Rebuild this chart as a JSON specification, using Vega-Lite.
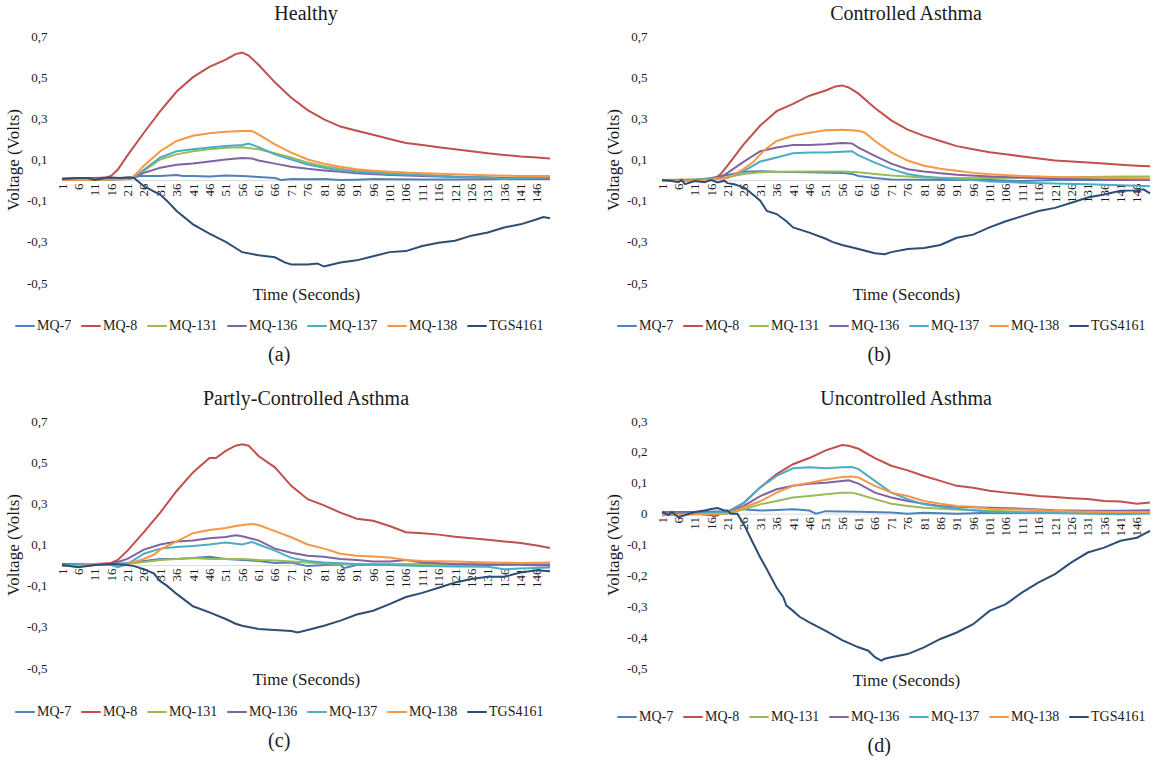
{
  "$schema": "https://vega.github.io/schema/vega-lite/v6.json",
  "background": "white",
  "padding": {"left": 4, "top": 4, "right": 0, "bottom": 0},
  "config": {
    "font": "Liberation Serif",
    "view": {"stroke": null},
    "axis": {"labelFont": "Liberation Serif", "titleFont": "Liberation Serif", "labelColor": "#1a1a1a", "titleColor": "#1a1a1a", "titleFontWeight": "normal", "grid": false},
    "legend": {"labelFont": "Liberation Serif", "labelColor": "#1a1a1a"},
    "title": {"font": "Liberation Serif", "fontWeight": "normal", "color": "#1a1a1a", "anchor": "middle"},
    "line": {"strokeWidth": 2}
  },
  "datasets": {
    "a": [
      {"s":"MQ-7","t":1,"v":0.005},{"s":"MQ-7","t":6,"v":0.006},{"s":"MQ-7","t":11,"v":0.005},{"s":"MQ-7","t":16,"v":0.008},{"s":"MQ-7","t":21,"v":0.012},{"s":"MQ-7","t":25,"v":0.02},{"s":"MQ-7","t":31,"v":0.02},{"s":"MQ-7","t":36,"v":0.025},{"s":"MQ-7","t":38,"v":0.02},{"s":"MQ-7","t":41,"v":0.02},{"s":"MQ-7","t":46,"v":0.018},{"s":"MQ-7","t":51,"v":0.022},{"s":"MQ-7","t":56,"v":0.02},{"s":"MQ-7","t":61,"v":0.015},{"s":"MQ-7","t":66,"v":0.01},{"s":"MQ-7","t":68,"v":0.0},{"s":"MQ-7","t":71,"v":0.005},{"s":"MQ-7","t":76,"v":0.004},{"s":"MQ-7","t":81,"v":0.005},{"s":"MQ-7","t":86,"v":0.0},{"s":"MQ-7","t":91,"v":0.002},{"s":"MQ-7","t":96,"v":0.005},{"s":"MQ-7","t":101,"v":0.004},{"s":"MQ-7","t":111,"v":0.003},{"s":"MQ-7","t":121,"v":0.003},{"s":"MQ-7","t":131,"v":0.004},{"s":"MQ-7","t":141,"v":0.005},{"s":"MQ-7","t":150,"v":0.005},
      {"s":"MQ-8","t":1,"v":0.008},{"s":"MQ-8","t":6,"v":0.01},{"s":"MQ-8","t":11,"v":0.01},{"s":"MQ-8","t":14,"v":0.012},{"s":"MQ-8","t":16,"v":0.02},{"s":"MQ-8","t":18,"v":0.05},{"s":"MQ-8","t":21,"v":0.12},{"s":"MQ-8","t":26,"v":0.23},{"s":"MQ-8","t":31,"v":0.335},{"s":"MQ-8","t":36,"v":0.43},{"s":"MQ-8","t":41,"v":0.5},{"s":"MQ-8","t":46,"v":0.55},{"s":"MQ-8","t":51,"v":0.585},{"s":"MQ-8","t":54,"v":0.612},{"s":"MQ-8","t":56,"v":0.62},{"s":"MQ-8","t":58,"v":0.605},{"s":"MQ-8","t":61,"v":0.56},{"s":"MQ-8","t":66,"v":0.475},{"s":"MQ-8","t":71,"v":0.4},{"s":"MQ-8","t":76,"v":0.34},{"s":"MQ-8","t":81,"v":0.295},{"s":"MQ-8","t":86,"v":0.26},{"s":"MQ-8","t":91,"v":0.24},{"s":"MQ-8","t":96,"v":0.22},{"s":"MQ-8","t":101,"v":0.2},{"s":"MQ-8","t":106,"v":0.18},{"s":"MQ-8","t":111,"v":0.17},{"s":"MQ-8","t":116,"v":0.16},{"s":"MQ-8","t":121,"v":0.15},{"s":"MQ-8","t":126,"v":0.14},{"s":"MQ-8","t":131,"v":0.13},{"s":"MQ-8","t":136,"v":0.122},{"s":"MQ-8","t":141,"v":0.115},{"s":"MQ-8","t":146,"v":0.11},{"s":"MQ-8","t":150,"v":0.105},
      {"s":"MQ-131","t":1,"v":0.0},{"s":"MQ-131","t":11,"v":0.002},{"s":"MQ-131","t":21,"v":0.005},{"s":"MQ-131","t":23,"v":0.01},{"s":"MQ-131","t":26,"v":0.045},{"s":"MQ-131","t":31,"v":0.1},{"s":"MQ-131","t":36,"v":0.125},{"s":"MQ-131","t":41,"v":0.14},{"s":"MQ-131","t":46,"v":0.15},{"s":"MQ-131","t":51,"v":0.157},{"s":"MQ-131","t":56,"v":0.16},{"s":"MQ-131","t":61,"v":0.15},{"s":"MQ-131","t":66,"v":0.13},{"s":"MQ-131","t":71,"v":0.11},{"s":"MQ-131","t":76,"v":0.085},{"s":"MQ-131","t":81,"v":0.068},{"s":"MQ-131","t":86,"v":0.055},{"s":"MQ-131","t":91,"v":0.045},{"s":"MQ-131","t":101,"v":0.033},{"s":"MQ-131","t":111,"v":0.025},{"s":"MQ-131","t":121,"v":0.018},{"s":"MQ-131","t":131,"v":0.013},{"s":"MQ-131","t":141,"v":0.01},{"s":"MQ-131","t":150,"v":0.01},
      {"s":"MQ-136","t":1,"v":0.0},{"s":"MQ-136","t":11,"v":0.002},{"s":"MQ-136","t":21,"v":0.005},{"s":"MQ-136","t":23,"v":0.012},{"s":"MQ-136","t":26,"v":0.035},{"s":"MQ-136","t":31,"v":0.06},{"s":"MQ-136","t":36,"v":0.075},{"s":"MQ-136","t":41,"v":0.08},{"s":"MQ-136","t":46,"v":0.09},{"s":"MQ-136","t":51,"v":0.1},{"s":"MQ-136","t":56,"v":0.107},{"s":"MQ-136","t":59,"v":0.105},{"s":"MQ-136","t":61,"v":0.095},{"s":"MQ-136","t":66,"v":0.08},{"s":"MQ-136","t":71,"v":0.065},{"s":"MQ-136","t":76,"v":0.055},{"s":"MQ-136","t":81,"v":0.047},{"s":"MQ-136","t":86,"v":0.04},{"s":"MQ-136","t":91,"v":0.033},{"s":"MQ-136","t":101,"v":0.025},{"s":"MQ-136","t":111,"v":0.02},{"s":"MQ-136","t":121,"v":0.015},{"s":"MQ-136","t":131,"v":0.012},{"s":"MQ-136","t":141,"v":0.008},{"s":"MQ-136","t":150,"v":0.008},
      {"s":"MQ-137","t":1,"v":0.0},{"s":"MQ-137","t":11,"v":0.0},{"s":"MQ-137","t":21,"v":0.005},{"s":"MQ-137","t":23,"v":0.012},{"s":"MQ-137","t":26,"v":0.05},{"s":"MQ-137","t":31,"v":0.11},{"s":"MQ-137","t":36,"v":0.14},{"s":"MQ-137","t":41,"v":0.15},{"s":"MQ-137","t":46,"v":0.158},{"s":"MQ-137","t":51,"v":0.165},{"s":"MQ-137","t":56,"v":0.17},{"s":"MQ-137","t":58,"v":0.177},{"s":"MQ-137","t":61,"v":0.16},{"s":"MQ-137","t":66,"v":0.125},{"s":"MQ-137","t":71,"v":0.1},{"s":"MQ-137","t":76,"v":0.076},{"s":"MQ-137","t":81,"v":0.06},{"s":"MQ-137","t":86,"v":0.047},{"s":"MQ-137","t":91,"v":0.04},{"s":"MQ-137","t":101,"v":0.03},{"s":"MQ-137","t":111,"v":0.025},{"s":"MQ-137","t":121,"v":0.015},{"s":"MQ-137","t":131,"v":0.012},{"s":"MQ-137","t":136,"v":0.005},{"s":"MQ-137","t":141,"v":0.01},{"s":"MQ-137","t":150,"v":0.012},
      {"s":"MQ-138","t":1,"v":0.0},{"s":"MQ-138","t":11,"v":0.0},{"s":"MQ-138","t":21,"v":0.005},{"s":"MQ-138","t":23,"v":0.02},{"s":"MQ-138","t":26,"v":0.07},{"s":"MQ-138","t":31,"v":0.14},{"s":"MQ-138","t":36,"v":0.19},{"s":"MQ-138","t":41,"v":0.215},{"s":"MQ-138","t":46,"v":0.228},{"s":"MQ-138","t":51,"v":0.235},{"s":"MQ-138","t":56,"v":0.238},{"s":"MQ-138","t":59,"v":0.238},{"s":"MQ-138","t":61,"v":0.222},{"s":"MQ-138","t":66,"v":0.173},{"s":"MQ-138","t":71,"v":0.133},{"s":"MQ-138","t":76,"v":0.1},{"s":"MQ-138","t":81,"v":0.08},{"s":"MQ-138","t":86,"v":0.065},{"s":"MQ-138","t":91,"v":0.053},{"s":"MQ-138","t":96,"v":0.045},{"s":"MQ-138","t":101,"v":0.04},{"s":"MQ-138","t":111,"v":0.033},{"s":"MQ-138","t":121,"v":0.028},{"s":"MQ-138","t":131,"v":0.023},{"s":"MQ-138","t":141,"v":0.02},{"s":"MQ-138","t":150,"v":0.02},
      {"s":"TGS4161","t":1,"v":0.005},{"s":"TGS4161","t":6,"v":0.01},{"s":"TGS4161","t":9,"v":0.01},{"s":"TGS4161","t":11,"v":0.0},{"s":"TGS4161","t":14,"v":0.01},{"s":"TGS4161","t":16,"v":0.012},{"s":"TGS4161","t":19,"v":0.01},{"s":"TGS4161","t":21,"v":0.013},{"s":"TGS4161","t":23,"v":0.01},{"s":"TGS4161","t":26,"v":-0.03},{"s":"TGS4161","t":29,"v":-0.055},{"s":"TGS4161","t":31,"v":-0.07},{"s":"TGS4161","t":33,"v":-0.1},{"s":"TGS4161","t":36,"v":-0.15},{"s":"TGS4161","t":41,"v":-0.215},{"s":"TGS4161","t":46,"v":-0.26},{"s":"TGS4161","t":51,"v":-0.3},{"s":"TGS4161","t":54,"v":-0.33},{"s":"TGS4161","t":56,"v":-0.35},{"s":"TGS4161","t":61,"v":-0.365},{"s":"TGS4161","t":66,"v":-0.375},{"s":"TGS4161","t":69,"v":-0.4},{"s":"TGS4161","t":71,"v":-0.41},{"s":"TGS4161","t":76,"v":-0.41},{"s":"TGS4161","t":79,"v":-0.405},{"s":"TGS4161","t":81,"v":-0.42},{"s":"TGS4161","t":86,"v":-0.4},{"s":"TGS4161","t":91,"v":-0.39},{"s":"TGS4161","t":96,"v":-0.37},{"s":"TGS4161","t":101,"v":-0.35},{"s":"TGS4161","t":106,"v":-0.345},{"s":"TGS4161","t":111,"v":-0.32},{"s":"TGS4161","t":116,"v":-0.305},{"s":"TGS4161","t":121,"v":-0.295},{"s":"TGS4161","t":126,"v":-0.27},{"s":"TGS4161","t":131,"v":-0.255},{"s":"TGS4161","t":136,"v":-0.23},{"s":"TGS4161","t":141,"v":-0.215},{"s":"TGS4161","t":146,"v":-0.19},{"s":"TGS4161","t":148,"v":-0.18},{"s":"TGS4161","t":150,"v":-0.185}
    ],
    "b": [
      {"s":"MQ-7","t":1,"v":0.0},{"s":"MQ-7","t":11,"v":0.0},{"s":"MQ-7","t":16,"v":0.01},{"s":"MQ-7","t":21,"v":0.025},{"s":"MQ-7","t":26,"v":0.04},{"s":"MQ-7","t":31,"v":0.043},{"s":"MQ-7","t":36,"v":0.04},{"s":"MQ-7","t":46,"v":0.038},{"s":"MQ-7","t":56,"v":0.035},{"s":"MQ-7","t":59,"v":0.03},{"s":"MQ-7","t":61,"v":0.02},{"s":"MQ-7","t":66,"v":0.01},{"s":"MQ-7","t":71,"v":0.003},{"s":"MQ-7","t":81,"v":0.002},{"s":"MQ-7","t":91,"v":0.0},{"s":"MQ-7","t":101,"v":0.0},{"s":"MQ-7","t":111,"v":-0.005},{"s":"MQ-7","t":121,"v":0.0},{"s":"MQ-7","t":131,"v":0.0},{"s":"MQ-7","t":141,"v":0.0},{"s":"MQ-7","t":150,"v":0.0},
      {"s":"MQ-8","t":1,"v":0.0},{"s":"MQ-8","t":11,"v":0.002},{"s":"MQ-8","t":17,"v":0.005},{"s":"MQ-8","t":19,"v":0.03},{"s":"MQ-8","t":21,"v":0.07},{"s":"MQ-8","t":26,"v":0.175},{"s":"MQ-8","t":31,"v":0.265},{"s":"MQ-8","t":36,"v":0.335},{"s":"MQ-8","t":41,"v":0.37},{"s":"MQ-8","t":46,"v":0.41},{"s":"MQ-8","t":51,"v":0.435},{"s":"MQ-8","t":54,"v":0.455},{"s":"MQ-8","t":56,"v":0.46},{"s":"MQ-8","t":58,"v":0.45},{"s":"MQ-8","t":61,"v":0.42},{"s":"MQ-8","t":66,"v":0.35},{"s":"MQ-8","t":71,"v":0.29},{"s":"MQ-8","t":76,"v":0.245},{"s":"MQ-8","t":81,"v":0.215},{"s":"MQ-8","t":86,"v":0.19},{"s":"MQ-8","t":91,"v":0.165},{"s":"MQ-8","t":96,"v":0.15},{"s":"MQ-8","t":101,"v":0.135},{"s":"MQ-8","t":106,"v":0.125},{"s":"MQ-8","t":111,"v":0.115},{"s":"MQ-8","t":116,"v":0.105},{"s":"MQ-8","t":121,"v":0.095},{"s":"MQ-8","t":126,"v":0.09},{"s":"MQ-8","t":131,"v":0.085},{"s":"MQ-8","t":136,"v":0.08},{"s":"MQ-8","t":141,"v":0.075},{"s":"MQ-8","t":146,"v":0.07},{"s":"MQ-8","t":150,"v":0.067},
      {"s":"MQ-131","t":1,"v":0.0},{"s":"MQ-131","t":11,"v":0.003},{"s":"MQ-131","t":16,"v":0.005},{"s":"MQ-131","t":21,"v":0.015},{"s":"MQ-131","t":26,"v":0.03},{"s":"MQ-131","t":31,"v":0.038},{"s":"MQ-131","t":36,"v":0.04},{"s":"MQ-131","t":46,"v":0.042},{"s":"MQ-131","t":56,"v":0.042},{"s":"MQ-131","t":61,"v":0.038},{"s":"MQ-131","t":66,"v":0.03},{"s":"MQ-131","t":71,"v":0.022},{"s":"MQ-131","t":81,"v":0.012},{"s":"MQ-131","t":91,"v":0.01},{"s":"MQ-131","t":101,"v":0.01},{"s":"MQ-131","t":111,"v":0.012},{"s":"MQ-131","t":121,"v":0.013},{"s":"MQ-131","t":131,"v":0.015},{"s":"MQ-131","t":141,"v":0.017},{"s":"MQ-131","t":150,"v":0.018},
      {"s":"MQ-136","t":1,"v":0.0},{"s":"MQ-136","t":11,"v":0.0},{"s":"MQ-136","t":18,"v":0.005},{"s":"MQ-136","t":21,"v":0.035},{"s":"MQ-136","t":26,"v":0.09},{"s":"MQ-136","t":31,"v":0.14},{"s":"MQ-136","t":36,"v":0.158},{"s":"MQ-136","t":41,"v":0.17},{"s":"MQ-136","t":46,"v":0.17},{"s":"MQ-136","t":51,"v":0.174},{"s":"MQ-136","t":56,"v":0.18},{"s":"MQ-136","t":59,"v":0.178},{"s":"MQ-136","t":61,"v":0.158},{"s":"MQ-136","t":66,"v":0.118},{"s":"MQ-136","t":71,"v":0.08},{"s":"MQ-136","t":76,"v":0.053},{"s":"MQ-136","t":81,"v":0.042},{"s":"MQ-136","t":86,"v":0.033},{"s":"MQ-136","t":91,"v":0.026},{"s":"MQ-136","t":101,"v":0.018},{"s":"MQ-136","t":111,"v":0.012},{"s":"MQ-136","t":121,"v":0.008},{"s":"MQ-136","t":131,"v":0.005},{"s":"MQ-136","t":141,"v":0.002},{"s":"MQ-136","t":150,"v":0.0},
      {"s":"MQ-137","t":1,"v":0.0},{"s":"MQ-137","t":11,"v":0.0},{"s":"MQ-137","t":21,"v":0.01},{"s":"MQ-137","t":26,"v":0.045},{"s":"MQ-137","t":31,"v":0.09},{"s":"MQ-137","t":36,"v":0.11},{"s":"MQ-137","t":41,"v":0.13},{"s":"MQ-137","t":46,"v":0.134},{"s":"MQ-137","t":51,"v":0.134},{"s":"MQ-137","t":56,"v":0.138},{"s":"MQ-137","t":59,"v":0.14},{"s":"MQ-137","t":61,"v":0.12},{"s":"MQ-137","t":66,"v":0.085},{"s":"MQ-137","t":71,"v":0.053},{"s":"MQ-137","t":76,"v":0.03},{"s":"MQ-137","t":81,"v":0.017},{"s":"MQ-137","t":86,"v":0.01},{"s":"MQ-137","t":91,"v":0.003},{"s":"MQ-137","t":96,"v":0.0},{"s":"MQ-137","t":101,"v":-0.007},{"s":"MQ-137","t":111,"v":-0.013},{"s":"MQ-137","t":121,"v":-0.017},{"s":"MQ-137","t":131,"v":-0.02},{"s":"MQ-137","t":141,"v":-0.025},{"s":"MQ-137","t":150,"v":-0.03},
      {"s":"MQ-138","t":1,"v":-0.005},{"s":"MQ-138","t":11,"v":-0.005},{"s":"MQ-138","t":21,"v":0.01},{"s":"MQ-138","t":24,"v":0.035},{"s":"MQ-138","t":26,"v":0.055},{"s":"MQ-138","t":29,"v":0.09},{"s":"MQ-138","t":31,"v":0.125},{"s":"MQ-138","t":33,"v":0.155},{"s":"MQ-138","t":36,"v":0.19},{"s":"MQ-138","t":41,"v":0.215},{"s":"MQ-138","t":46,"v":0.23},{"s":"MQ-138","t":51,"v":0.242},{"s":"MQ-138","t":56,"v":0.244},{"s":"MQ-138","t":61,"v":0.24},{"s":"MQ-138","t":63,"v":0.23},{"s":"MQ-138","t":66,"v":0.19},{"s":"MQ-138","t":71,"v":0.135},{"s":"MQ-138","t":76,"v":0.095},{"s":"MQ-138","t":81,"v":0.07},{"s":"MQ-138","t":86,"v":0.055},{"s":"MQ-138","t":91,"v":0.045},{"s":"MQ-138","t":96,"v":0.035},{"s":"MQ-138","t":101,"v":0.028},{"s":"MQ-138","t":111,"v":0.02},{"s":"MQ-138","t":121,"v":0.015},{"s":"MQ-138","t":131,"v":0.013},{"s":"MQ-138","t":141,"v":0.01},{"s":"MQ-138","t":150,"v":0.008},
      {"s":"TGS4161","t":1,"v":0.0},{"s":"TGS4161","t":4,"v":-0.005},{"s":"TGS4161","t":6,"v":-0.01},{"s":"TGS4161","t":7,"v":0.0},{"s":"TGS4161","t":8,"v":-0.02},{"s":"TGS4161","t":11,"v":-0.005},{"s":"TGS4161","t":14,"v":-0.01},{"s":"TGS4161","t":16,"v":0.0},{"s":"TGS4161","t":18,"v":-0.012},{"s":"TGS4161","t":20,"v":-0.003},{"s":"TGS4161","t":21,"v":-0.015},{"s":"TGS4161","t":23,"v":-0.02},{"s":"TGS4161","t":26,"v":-0.035},{"s":"TGS4161","t":28,"v":-0.06},{"s":"TGS4161","t":31,"v":-0.1},{"s":"TGS4161","t":33,"v":-0.15},{"s":"TGS4161","t":36,"v":-0.165},{"s":"TGS4161","t":39,"v":-0.2},{"s":"TGS4161","t":41,"v":-0.23},{"s":"TGS4161","t":46,"v":-0.255},{"s":"TGS4161","t":51,"v":-0.285},{"s":"TGS4161","t":53,"v":-0.3},{"s":"TGS4161","t":56,"v":-0.315},{"s":"TGS4161","t":61,"v":-0.335},{"s":"TGS4161","t":66,"v":-0.355},{"s":"TGS4161","t":69,"v":-0.36},{"s":"TGS4161","t":71,"v":-0.35},{"s":"TGS4161","t":76,"v":-0.335},{"s":"TGS4161","t":81,"v":-0.33},{"s":"TGS4161","t":86,"v":-0.315},{"s":"TGS4161","t":91,"v":-0.28},{"s":"TGS4161","t":96,"v":-0.265},{"s":"TGS4161","t":101,"v":-0.23},{"s":"TGS4161","t":106,"v":-0.2},{"s":"TGS4161","t":111,"v":-0.175},{"s":"TGS4161","t":116,"v":-0.15},{"s":"TGS4161","t":121,"v":-0.135},{"s":"TGS4161","t":126,"v":-0.11},{"s":"TGS4161","t":131,"v":-0.085},{"s":"TGS4161","t":136,"v":-0.07},{"s":"TGS4161","t":141,"v":-0.052},{"s":"TGS4161","t":146,"v":-0.05},{"s":"TGS4161","t":148,"v":-0.045},{"s":"TGS4161","t":150,"v":-0.065}
    ],
    "c": [
      {"s":"MQ-7","t":1,"v":0.0},{"s":"MQ-7","t":6,"v":-0.005},{"s":"MQ-7","t":11,"v":0.005},{"s":"MQ-7","t":16,"v":0.005},{"s":"MQ-7","t":21,"v":0.01},{"s":"MQ-7","t":26,"v":0.02},{"s":"MQ-7","t":31,"v":0.03},{"s":"MQ-7","t":36,"v":0.03},{"s":"MQ-7","t":41,"v":0.035},{"s":"MQ-7","t":46,"v":0.04},{"s":"MQ-7","t":51,"v":0.03},{"s":"MQ-7","t":56,"v":0.025},{"s":"MQ-7","t":61,"v":0.02},{"s":"MQ-7","t":66,"v":0.01},{"s":"MQ-7","t":71,"v":0.012},{"s":"MQ-7","t":76,"v":-0.005},{"s":"MQ-7","t":81,"v":0.0},{"s":"MQ-7","t":86,"v":0.003},{"s":"MQ-7","t":87,"v":-0.015},{"s":"MQ-7","t":91,"v":0.0},{"s":"MQ-7","t":101,"v":0.003},{"s":"MQ-7","t":111,"v":0.005},{"s":"MQ-7","t":121,"v":0.003},{"s":"MQ-7","t":131,"v":0.002},{"s":"MQ-7","t":141,"v":0.005},{"s":"MQ-7","t":150,"v":0.005},
      {"s":"MQ-8","t":1,"v":0.005},{"s":"MQ-8","t":11,"v":0.005},{"s":"MQ-8","t":16,"v":0.01},{"s":"MQ-8","t":18,"v":0.025},{"s":"MQ-8","t":21,"v":0.07},{"s":"MQ-8","t":26,"v":0.16},{"s":"MQ-8","t":31,"v":0.255},{"s":"MQ-8","t":36,"v":0.36},{"s":"MQ-8","t":41,"v":0.45},{"s":"MQ-8","t":46,"v":0.52},{"s":"MQ-8","t":48,"v":0.52},{"s":"MQ-8","t":51,"v":0.555},{"s":"MQ-8","t":54,"v":0.58},{"s":"MQ-8","t":56,"v":0.587},{"s":"MQ-8","t":58,"v":0.58},{"s":"MQ-8","t":61,"v":0.53},{"s":"MQ-8","t":66,"v":0.475},{"s":"MQ-8","t":71,"v":0.385},{"s":"MQ-8","t":76,"v":0.32},{"s":"MQ-8","t":81,"v":0.29},{"s":"MQ-8","t":86,"v":0.255},{"s":"MQ-8","t":91,"v":0.225},{"s":"MQ-8","t":96,"v":0.215},{"s":"MQ-8","t":101,"v":0.19},{"s":"MQ-8","t":106,"v":0.16},{"s":"MQ-8","t":111,"v":0.155},{"s":"MQ-8","t":116,"v":0.148},{"s":"MQ-8","t":121,"v":0.138},{"s":"MQ-8","t":126,"v":0.13},{"s":"MQ-8","t":131,"v":0.123},{"s":"MQ-8","t":136,"v":0.115},{"s":"MQ-8","t":141,"v":0.107},{"s":"MQ-8","t":146,"v":0.095},{"s":"MQ-8","t":150,"v":0.083},
      {"s":"MQ-131","t":1,"v":0.0},{"s":"MQ-131","t":11,"v":0.005},{"s":"MQ-131","t":21,"v":0.005},{"s":"MQ-131","t":26,"v":0.015},{"s":"MQ-131","t":31,"v":0.025},{"s":"MQ-131","t":36,"v":0.03},{"s":"MQ-131","t":41,"v":0.035},{"s":"MQ-131","t":46,"v":0.03},{"s":"MQ-131","t":51,"v":0.03},{"s":"MQ-131","t":56,"v":0.03},{"s":"MQ-131","t":61,"v":0.025},{"s":"MQ-131","t":66,"v":0.022},{"s":"MQ-131","t":71,"v":0.018},{"s":"MQ-131","t":76,"v":0.013},{"s":"MQ-131","t":81,"v":0.008},{"s":"MQ-131","t":91,"v":0.003},{"s":"MQ-131","t":101,"v":0.005},{"s":"MQ-131","t":111,"v":0.005},{"s":"MQ-131","t":121,"v":0.005},{"s":"MQ-131","t":131,"v":0.005},{"s":"MQ-131","t":141,"v":0.008},{"s":"MQ-131","t":150,"v":0.01},
      {"s":"MQ-136","t":1,"v":0.0},{"s":"MQ-136","t":6,"v":-0.005},{"s":"MQ-136","t":11,"v":0.0},{"s":"MQ-136","t":16,"v":0.005},{"s":"MQ-136","t":21,"v":0.03},{"s":"MQ-136","t":26,"v":0.075},{"s":"MQ-136","t":31,"v":0.1},{"s":"MQ-136","t":36,"v":0.115},{"s":"MQ-136","t":41,"v":0.12},{"s":"MQ-136","t":46,"v":0.13},{"s":"MQ-136","t":51,"v":0.137},{"s":"MQ-136","t":54,"v":0.145},{"s":"MQ-136","t":56,"v":0.14},{"s":"MQ-136","t":61,"v":0.12},{"s":"MQ-136","t":66,"v":0.08},{"s":"MQ-136","t":71,"v":0.06},{"s":"MQ-136","t":76,"v":0.045},{"s":"MQ-136","t":81,"v":0.04},{"s":"MQ-136","t":86,"v":0.03},{"s":"MQ-136","t":91,"v":0.025},{"s":"MQ-136","t":96,"v":0.018},{"s":"MQ-136","t":101,"v":0.018},{"s":"MQ-136","t":106,"v":0.025},{"s":"MQ-136","t":111,"v":0.012},{"s":"MQ-136","t":121,"v":0.005},{"s":"MQ-136","t":131,"v":0.002},{"s":"MQ-136","t":141,"v":0.002},{"s":"MQ-136","t":150,"v":-0.003},
      {"s":"MQ-137","t":1,"v":0.0},{"s":"MQ-137","t":11,"v":0.0},{"s":"MQ-137","t":16,"v":0.0},{"s":"MQ-137","t":18,"v":-0.01},{"s":"MQ-137","t":21,"v":0.005},{"s":"MQ-137","t":26,"v":0.055},{"s":"MQ-137","t":31,"v":0.08},{"s":"MQ-137","t":36,"v":0.088},{"s":"MQ-137","t":41,"v":0.093},{"s":"MQ-137","t":46,"v":0.1},{"s":"MQ-137","t":51,"v":0.11},{"s":"MQ-137","t":56,"v":0.1},{"s":"MQ-137","t":59,"v":0.112},{"s":"MQ-137","t":61,"v":0.1},{"s":"MQ-137","t":66,"v":0.07},{"s":"MQ-137","t":71,"v":0.035},{"s":"MQ-137","t":76,"v":0.02},{"s":"MQ-137","t":81,"v":0.013},{"s":"MQ-137","t":91,"v":0.005},{"s":"MQ-137","t":101,"v":0.0},{"s":"MQ-137","t":111,"v":-0.005},{"s":"MQ-137","t":121,"v":-0.007},{"s":"MQ-137","t":131,"v":-0.008},{"s":"MQ-137","t":136,"v":-0.02},{"s":"MQ-137","t":141,"v":-0.016},{"s":"MQ-137","t":150,"v":-0.012},
      {"s":"MQ-138","t":1,"v":-0.005},{"s":"MQ-138","t":6,"v":-0.005},{"s":"MQ-138","t":11,"v":0.0},{"s":"MQ-138","t":21,"v":0.005},{"s":"MQ-138","t":26,"v":0.03},{"s":"MQ-138","t":29,"v":0.05},{"s":"MQ-138","t":31,"v":0.075},{"s":"MQ-138","t":36,"v":0.115},{"s":"MQ-138","t":41,"v":0.155},{"s":"MQ-138","t":46,"v":0.17},{"s":"MQ-138","t":51,"v":0.18},{"s":"MQ-138","t":54,"v":0.19},{"s":"MQ-138","t":56,"v":0.195},{"s":"MQ-138","t":59,"v":0.2},{"s":"MQ-138","t":61,"v":0.195},{"s":"MQ-138","t":66,"v":0.165},{"s":"MQ-138","t":71,"v":0.135},{"s":"MQ-138","t":76,"v":0.1},{"s":"MQ-138","t":81,"v":0.08},{"s":"MQ-138","t":86,"v":0.055},{"s":"MQ-138","t":91,"v":0.045},{"s":"MQ-138","t":96,"v":0.042},{"s":"MQ-138","t":101,"v":0.037},{"s":"MQ-138","t":106,"v":0.025},{"s":"MQ-138","t":111,"v":0.02},{"s":"MQ-138","t":121,"v":0.017},{"s":"MQ-138","t":131,"v":0.013},{"s":"MQ-138","t":141,"v":0.01},{"s":"MQ-138","t":150,"v":0.013},
      {"s":"TGS4161","t":1,"v":0.0},{"s":"TGS4161","t":6,"v":-0.01},{"s":"TGS4161","t":11,"v":0.0},{"s":"TGS4161","t":16,"v":0.005},{"s":"TGS4161","t":21,"v":0.0},{"s":"TGS4161","t":23,"v":-0.005},{"s":"TGS4161","t":26,"v":-0.02},{"s":"TGS4161","t":29,"v":-0.04},{"s":"TGS4161","t":31,"v":-0.078},{"s":"TGS4161","t":33,"v":-0.1},{"s":"TGS4161","t":36,"v":-0.14},{"s":"TGS4161","t":41,"v":-0.2},{"s":"TGS4161","t":46,"v":-0.23},{"s":"TGS4161","t":51,"v":-0.262},{"s":"TGS4161","t":54,"v":-0.285},{"s":"TGS4161","t":56,"v":-0.295},{"s":"TGS4161","t":61,"v":-0.31},{"s":"TGS4161","t":66,"v":-0.315},{"s":"TGS4161","t":71,"v":-0.32},{"s":"TGS4161","t":73,"v":-0.327},{"s":"TGS4161","t":76,"v":-0.315},{"s":"TGS4161","t":81,"v":-0.295},{"s":"TGS4161","t":86,"v":-0.27},{"s":"TGS4161","t":91,"v":-0.24},{"s":"TGS4161","t":96,"v":-0.222},{"s":"TGS4161","t":101,"v":-0.19},{"s":"TGS4161","t":106,"v":-0.155},{"s":"TGS4161","t":111,"v":-0.135},{"s":"TGS4161","t":116,"v":-0.11},{"s":"TGS4161","t":121,"v":-0.085},{"s":"TGS4161","t":126,"v":-0.068},{"s":"TGS4161","t":131,"v":-0.057},{"s":"TGS4161","t":136,"v":-0.057},{"s":"TGS4161","t":141,"v":-0.036},{"s":"TGS4161","t":146,"v":-0.025},{"s":"TGS4161","t":150,"v":-0.03}
    ],
    "d": [
      {"s":"MQ-7","t":1,"v":0.005},{"s":"MQ-7","t":6,"v":0.0},{"s":"MQ-7","t":11,"v":0.005},{"s":"MQ-7","t":21,"v":0.008},{"s":"MQ-7","t":24,"v":0.015},{"s":"MQ-7","t":31,"v":0.01},{"s":"MQ-7","t":36,"v":0.012},{"s":"MQ-7","t":41,"v":0.014},{"s":"MQ-7","t":46,"v":0.01},{"s":"MQ-7","t":48,"v":0.0},{"s":"MQ-7","t":51,"v":0.008},{"s":"MQ-7","t":61,"v":0.006},{"s":"MQ-7","t":71,"v":0.004},{"s":"MQ-7","t":76,"v":0.0},{"s":"MQ-7","t":81,"v":0.003},{"s":"MQ-7","t":91,"v":0.0},{"s":"MQ-7","t":101,"v":0.003},{"s":"MQ-7","t":111,"v":0.002},{"s":"MQ-7","t":121,"v":0.002},{"s":"MQ-7","t":131,"v":0.001},{"s":"MQ-7","t":141,"v":0.002},{"s":"MQ-7","t":150,"v":0.002},
      {"s":"MQ-8","t":1,"v":-0.005},{"s":"MQ-8","t":11,"v":0.0},{"s":"MQ-8","t":16,"v":-0.005},{"s":"MQ-8","t":17,"v":-0.01},{"s":"MQ-8","t":19,"v":0.0},{"s":"MQ-8","t":21,"v":0.006},{"s":"MQ-8","t":26,"v":0.035},{"s":"MQ-8","t":31,"v":0.085},{"s":"MQ-8","t":36,"v":0.128},{"s":"MQ-8","t":41,"v":0.16},{"s":"MQ-8","t":46,"v":0.18},{"s":"MQ-8","t":51,"v":0.205},{"s":"MQ-8","t":56,"v":0.222},{"s":"MQ-8","t":58,"v":0.22},{"s":"MQ-8","t":61,"v":0.21},{"s":"MQ-8","t":66,"v":0.18},{"s":"MQ-8","t":71,"v":0.155},{"s":"MQ-8","t":76,"v":0.14},{"s":"MQ-8","t":81,"v":0.122},{"s":"MQ-8","t":86,"v":0.106},{"s":"MQ-8","t":91,"v":0.09},{"s":"MQ-8","t":96,"v":0.084},{"s":"MQ-8","t":101,"v":0.074},{"s":"MQ-8","t":106,"v":0.068},{"s":"MQ-8","t":111,"v":0.063},{"s":"MQ-8","t":116,"v":0.057},{"s":"MQ-8","t":121,"v":0.054},{"s":"MQ-8","t":126,"v":0.05},{"s":"MQ-8","t":131,"v":0.047},{"s":"MQ-8","t":136,"v":0.041},{"s":"MQ-8","t":141,"v":0.039},{"s":"MQ-8","t":146,"v":0.032},{"s":"MQ-8","t":150,"v":0.036},
      {"s":"MQ-131","t":1,"v":0.0},{"s":"MQ-131","t":11,"v":0.0},{"s":"MQ-131","t":21,"v":0.0},{"s":"MQ-131","t":26,"v":0.014},{"s":"MQ-131","t":31,"v":0.03},{"s":"MQ-131","t":36,"v":0.041},{"s":"MQ-131","t":41,"v":0.052},{"s":"MQ-131","t":46,"v":0.057},{"s":"MQ-131","t":51,"v":0.063},{"s":"MQ-131","t":56,"v":0.068},{"s":"MQ-131","t":59,"v":0.068},{"s":"MQ-131","t":61,"v":0.063},{"s":"MQ-131","t":66,"v":0.047},{"s":"MQ-131","t":71,"v":0.032},{"s":"MQ-131","t":76,"v":0.025},{"s":"MQ-131","t":81,"v":0.019},{"s":"MQ-131","t":86,"v":0.016},{"s":"MQ-131","t":91,"v":0.013},{"s":"MQ-131","t":101,"v":0.009},{"s":"MQ-131","t":111,"v":0.006},{"s":"MQ-131","t":121,"v":0.005},{"s":"MQ-131","t":131,"v":0.005},{"s":"MQ-131","t":141,"v":0.004},{"s":"MQ-131","t":150,"v":0.003},
      {"s":"MQ-136","t":1,"v":0.005},{"s":"MQ-136","t":11,"v":0.005},{"s":"MQ-136","t":16,"v":0.002},{"s":"MQ-136","t":21,"v":0.005},{"s":"MQ-136","t":26,"v":0.025},{"s":"MQ-136","t":31,"v":0.057},{"s":"MQ-136","t":36,"v":0.079},{"s":"MQ-136","t":41,"v":0.09},{"s":"MQ-136","t":46,"v":0.097},{"s":"MQ-136","t":51,"v":0.1},{"s":"MQ-136","t":56,"v":0.106},{"s":"MQ-136","t":58,"v":0.108},{"s":"MQ-136","t":61,"v":0.097},{"s":"MQ-136","t":66,"v":0.068},{"s":"MQ-136","t":71,"v":0.052},{"s":"MQ-136","t":76,"v":0.041},{"s":"MQ-136","t":81,"v":0.032},{"s":"MQ-136","t":86,"v":0.025},{"s":"MQ-136","t":91,"v":0.022},{"s":"MQ-136","t":101,"v":0.019},{"s":"MQ-136","t":111,"v":0.016},{"s":"MQ-136","t":121,"v":0.011},{"s":"MQ-136","t":131,"v":0.009},{"s":"MQ-136","t":141,"v":0.009},{"s":"MQ-136","t":150,"v":0.011},
      {"s":"MQ-137","t":1,"v":0.0},{"s":"MQ-137","t":11,"v":0.0},{"s":"MQ-137","t":21,"v":0.005},{"s":"MQ-137","t":26,"v":0.035},{"s":"MQ-137","t":31,"v":0.085},{"s":"MQ-137","t":36,"v":0.122},{"s":"MQ-137","t":41,"v":0.147},{"s":"MQ-137","t":46,"v":0.15},{"s":"MQ-137","t":51,"v":0.147},{"s":"MQ-137","t":56,"v":0.15},{"s":"MQ-137","t":59,"v":0.151},{"s":"MQ-137","t":61,"v":0.144},{"s":"MQ-137","t":66,"v":0.106},{"s":"MQ-137","t":71,"v":0.068},{"s":"MQ-137","t":76,"v":0.047},{"s":"MQ-137","t":81,"v":0.03},{"s":"MQ-137","t":86,"v":0.022},{"s":"MQ-137","t":91,"v":0.016},{"s":"MQ-137","t":96,"v":0.011},{"s":"MQ-137","t":101,"v":0.006},{"s":"MQ-137","t":111,"v":0.003},{"s":"MQ-137","t":121,"v":0.002},{"s":"MQ-137","t":131,"v":0.0},{"s":"MQ-137","t":141,"v":-0.002},{"s":"MQ-137","t":150,"v":0.0},
      {"s":"MQ-138","t":1,"v":-0.005},{"s":"MQ-138","t":11,"v":-0.003},{"s":"MQ-138","t":21,"v":0.0},{"s":"MQ-138","t":26,"v":0.02},{"s":"MQ-138","t":31,"v":0.04},{"s":"MQ-138","t":36,"v":0.068},{"s":"MQ-138","t":41,"v":0.09},{"s":"MQ-138","t":46,"v":0.1},{"s":"MQ-138","t":51,"v":0.11},{"s":"MQ-138","t":56,"v":0.119},{"s":"MQ-138","t":59,"v":0.12},{"s":"MQ-138","t":61,"v":0.117},{"s":"MQ-138","t":66,"v":0.09},{"s":"MQ-138","t":71,"v":0.068},{"s":"MQ-138","t":76,"v":0.057},{"s":"MQ-138","t":81,"v":0.041},{"s":"MQ-138","t":86,"v":0.032},{"s":"MQ-138","t":91,"v":0.025},{"s":"MQ-138","t":96,"v":0.022},{"s":"MQ-138","t":101,"v":0.016},{"s":"MQ-138","t":111,"v":0.013},{"s":"MQ-138","t":121,"v":0.009},{"s":"MQ-138","t":131,"v":0.006},{"s":"MQ-138","t":141,"v":0.005},{"s":"MQ-138","t":150,"v":0.005},
      {"s":"TGS4161","t":1,"v":0.005},{"s":"TGS4161","t":3,"v":-0.005},{"s":"TGS4161","t":4,"v":0.005},{"s":"TGS4161","t":6,"v":-0.012},{"s":"TGS4161","t":8,"v":-0.005},{"s":"TGS4161","t":11,"v":0.005},{"s":"TGS4161","t":14,"v":0.01},{"s":"TGS4161","t":16,"v":0.015},{"s":"TGS4161","t":18,"v":0.018},{"s":"TGS4161","t":20,"v":0.01},{"s":"TGS4161","t":21,"v":0.01},{"s":"TGS4161","t":22,"v":0.0},{"s":"TGS4161","t":24,"v":0.0},{"s":"TGS4161","t":26,"v":-0.035},{"s":"TGS4161","t":28,"v":-0.078},{"s":"TGS4161","t":31,"v":-0.142},{"s":"TGS4161","t":33,"v":-0.18},{"s":"TGS4161","t":36,"v":-0.24},{"s":"TGS4161","t":38,"v":-0.27},{"s":"TGS4161","t":39,"v":-0.298},{"s":"TGS4161","t":41,"v":-0.315},{"s":"TGS4161","t":43,"v":-0.334},{"s":"TGS4161","t":46,"v":-0.352},{"s":"TGS4161","t":51,"v":-0.38},{"s":"TGS4161","t":56,"v":-0.41},{"s":"TGS4161","t":61,"v":-0.433},{"s":"TGS4161","t":64,"v":-0.444},{"s":"TGS4161","t":66,"v":-0.465},{"s":"TGS4161","t":68,"v":-0.476},{"s":"TGS4161","t":69,"v":-0.47},{"s":"TGS4161","t":71,"v":-0.465},{"s":"TGS4161","t":76,"v":-0.455},{"s":"TGS4161","t":81,"v":-0.433},{"s":"TGS4161","t":86,"v":-0.406},{"s":"TGS4161","t":91,"v":-0.385},{"s":"TGS4161","t":96,"v":-0.358},{"s":"TGS4161","t":101,"v":-0.315},{"s":"TGS4161","t":106,"v":-0.293},{"s":"TGS4161","t":111,"v":-0.255},{"s":"TGS4161","t":116,"v":-0.223},{"s":"TGS4161","t":121,"v":-0.196},{"s":"TGS4161","t":126,"v":-0.158},{"s":"TGS4161","t":131,"v":-0.126},{"s":"TGS4161","t":136,"v":-0.11},{"s":"TGS4161","t":141,"v":-0.088},{"s":"TGS4161","t":146,"v":-0.078},{"s":"TGS4161","t":150,"v":-0.056}
    ]
  },
  "resolve": {"scale": {"x": "independent", "y": "independent", "color": "independent"}, "legend": {"color": "independent"}, "axis": {"x": "independent", "y": "independent"}},
  "spacing": 24,
  "vconcat": [
    {
      "resolve": {"scale": {"x": "independent", "y": "independent", "color": "independent"}, "legend": {"color": "independent"}, "axis": {"x": "independent", "y": "independent"}},
      "spacing": 50,
      "hconcat": [
        {
          "title": {"text": "(a)", "orient": "bottom", "fontSize": 20, "offset": 12, "anchor": "middle"},
          "resolve": {"scale": {"color": "independent"}, "legend": {"color": "independent"}},
          "vconcat": [{
            "title": {"text": "Healthy", "fontSize": 20, "offset": 6, "anchor": "middle"},
            "width": 488, "height": 247,
            "data": {"name": "a"},
            "mark": {"type": "line", "strokeWidth": 2},
            "encoding": {
              "x": {"field": "t", "type": "quantitative", "scale": {"domain": [1, 150], "nice": false, "zero": false},
                "axis": {"title": "Time (Seconds)", "values": [1,6,11,16,21,26,31,36,41,46,51,56,61,66,71,76,81,86,91,96,101,106,111,116,121,126,131,136,141,146], "labelAngle": -90, "labelFlush": false, "labelOverlap": false, "offset": -102.9, "ticks": false, "domainColor": "#d9d9d9", "domainWidth": 1, "labelPadding": 3, "labelFontSize": 13, "titleFontSize": 17, "titleY": 114.6, "titleBaseline": "middle"}},
              "y": {"field": "v", "type": "quantitative", "scale": {"domain": [-0.5, 0.7], "nice": false, "zero": false},
                "axis": {"title": "Voltage (Volts)", "values": [-0.5,-0.3,-0.1,0.1,0.3,0.5,0.7], "labelExpr": "datum.value == 0 ? '0' : replace(replace(format(datum.value, '.1f'), '.', ','), '\u2212', '-')", "domain": false, "ticks": false, "tickSize": 0, "labelPadding": 15, "labelFontSize": 13, "titleFontSize": 17, "titlePadding": 4}},
              "color": {"field": "s", "type": "nominal",
                "scale": {"domain": ["MQ-7","MQ-8","MQ-131","MQ-136","MQ-137","MQ-138","TGS4161"], "range": ["#4F81BD","#C0504D","#9BBB59","#8064A2","#4BACC6","#F79646","#2C4D75"]},
                "legend": {"title": null, "orient": "none", "direction": "horizontal", "legendX": -48, "legendY": 279, "symbolType": "stroke", "symbolSize": 380, "symbolStrokeWidth": 2.5, "labelFontSize": 14, "labelOffset": 1, "columnPadding": 5}}
            }
          }]
        },
        {
          "title": {"text": "(b)", "orient": "bottom", "fontSize": 20, "offset": 12, "anchor": "middle"},
          "resolve": {"scale": {"color": "independent"}, "legend": {"color": "independent"}},
          "vconcat": [{
            "title": {"text": "Controlled Asthma", "fontSize": 20, "offset": 6, "anchor": "middle"},
            "width": 488, "height": 247,
            "data": {"name": "b"},
            "mark": {"type": "line", "strokeWidth": 2},
            "encoding": {
              "x": {"field": "t", "type": "quantitative", "scale": {"domain": [1, 150], "nice": false, "zero": false},
                "axis": {"title": "Time (Seconds)", "values": [1,6,11,16,21,26,31,36,41,46,51,56,61,66,71,76,81,86,91,96,101,106,111,116,121,126,131,136,141,146], "labelAngle": -90, "labelFlush": false, "labelOverlap": false, "offset": -102.9, "ticks": false, "domainColor": "#d9d9d9", "domainWidth": 1, "labelPadding": 3, "labelFontSize": 13, "titleFontSize": 17, "titleY": 114.6, "titleBaseline": "middle"}},
              "y": {"field": "v", "type": "quantitative", "scale": {"domain": [-0.5, 0.7], "nice": false, "zero": false},
                "axis": {"title": "Voltage (Volts)", "values": [-0.5,-0.3,-0.1,0.1,0.3,0.5,0.7], "labelExpr": "datum.value == 0 ? '0' : replace(replace(format(datum.value, '.1f'), '.', ','), '\u2212', '-')", "domain": false, "ticks": false, "tickSize": 0, "labelPadding": 15, "labelFontSize": 13, "titleFontSize": 17, "titlePadding": 4}},
              "color": {"field": "s", "type": "nominal",
                "scale": {"domain": ["MQ-7","MQ-8","MQ-131","MQ-136","MQ-137","MQ-138","TGS4161"], "range": ["#4F81BD","#C0504D","#9BBB59","#8064A2","#4BACC6","#F79646","#2C4D75"]},
                "legend": {"title": null, "orient": "none", "direction": "horizontal", "legendX": -46, "legendY": 279, "symbolType": "stroke", "symbolSize": 380, "symbolStrokeWidth": 2.5, "labelFontSize": 14, "labelOffset": 1, "columnPadding": 5}}
            }
          }]
        }
      ]
    },
    {
      "resolve": {"scale": {"x": "independent", "y": "independent", "color": "independent"}, "legend": {"color": "independent"}, "axis": {"x": "independent", "y": "independent"}},
      "spacing": 50,
      "hconcat": [
        {
          "title": {"text": "(c)", "orient": "bottom", "fontSize": 20, "offset": 12, "anchor": "middle"},
          "resolve": {"scale": {"color": "independent"}, "legend": {"color": "independent"}},
          "vconcat": [{
            "title": {"text": "Partly-Controlled Asthma", "fontSize": 20, "offset": 6, "anchor": "middle"},
            "width": 488, "height": 247,
            "data": {"name": "c"},
            "mark": {"type": "line", "strokeWidth": 2},
            "encoding": {
              "x": {"field": "t", "type": "quantitative", "scale": {"domain": [1, 150], "nice": false, "zero": false},
                "axis": {"title": "Time (Seconds)", "values": [1,6,11,16,21,26,31,36,41,46,51,56,61,66,71,76,81,86,91,96,101,106,111,116,121,126,131,136,141,146], "labelAngle": -90, "labelFlush": false, "labelOverlap": false, "offset": -102.9, "ticks": false, "domainColor": "#d9d9d9", "domainWidth": 1, "labelPadding": 3, "labelFontSize": 13, "titleFontSize": 17, "titleY": 114.6, "titleBaseline": "middle"}},
              "y": {"field": "v", "type": "quantitative", "scale": {"domain": [-0.5, 0.7], "nice": false, "zero": false},
                "axis": {"title": "Voltage (Volts)", "values": [-0.5,-0.3,-0.1,0.1,0.3,0.5,0.7], "labelExpr": "datum.value == 0 ? '0' : replace(replace(format(datum.value, '.1f'), '.', ','), '\u2212', '-')", "domain": false, "ticks": false, "tickSize": 0, "labelPadding": 15, "labelFontSize": 13, "titleFontSize": 17, "titlePadding": 4}},
              "color": {"field": "s", "type": "nominal",
                "scale": {"domain": ["MQ-7","MQ-8","MQ-131","MQ-136","MQ-137","MQ-138","TGS4161"], "range": ["#4F81BD","#C0504D","#9BBB59","#8064A2","#4BACC6","#F79646","#2C4D75"]},
                "legend": {"title": null, "orient": "none", "direction": "horizontal", "legendX": -48, "legendY": 280, "symbolType": "stroke", "symbolSize": 380, "symbolStrokeWidth": 2.5, "labelFontSize": 14, "labelOffset": 1, "columnPadding": 5}}
            }
          }]
        },
        {
          "title": {"text": "(d)", "orient": "bottom", "fontSize": 20, "offset": 12, "anchor": "middle"},
          "resolve": {"scale": {"color": "independent"}, "legend": {"color": "independent"}},
          "vconcat": [{
            "title": {"text": "Uncontrolled Asthma", "fontSize": 20, "offset": 6, "anchor": "middle"},
            "width": 488, "height": 247,
            "data": {"name": "d"},
            "mark": {"type": "line", "strokeWidth": 2},
            "encoding": {
              "x": {"field": "t", "type": "quantitative", "scale": {"domain": [1, 150], "nice": false, "zero": false},
                "axis": {"title": "Time (Seconds)", "values": [1,6,11,16,21,26,31,36,41,46,51,56,61,66,71,76,81,86,91,96,101,106,111,116,121,126,131,136,141,146], "labelAngle": -90, "labelFlush": false, "labelOverlap": false, "offset": -154.4, "ticks": false, "domainColor": "#d9d9d9", "domainWidth": 1, "labelPadding": 3, "labelFontSize": 13, "titleFontSize": 17, "titleY": 166.5, "titleBaseline": "middle"}},
              "y": {"field": "v", "type": "quantitative", "scale": {"domain": [-0.5, 0.3], "nice": false, "zero": false},
                "axis": {"title": "Voltage (Volts)", "values": [-0.5,-0.4,-0.3,-0.2,-0.1,0,0.1,0.2,0.3], "labelExpr": "datum.value == 0 ? '0' : replace(replace(format(datum.value, '.1f'), '.', ','), '\u2212', '-')", "domain": false, "ticks": false, "tickSize": 0, "labelPadding": 15, "labelFontSize": 13, "titleFontSize": 17, "titlePadding": 4}},
              "color": {"field": "s", "type": "nominal",
                "scale": {"domain": ["MQ-7","MQ-8","MQ-131","MQ-136","MQ-137","MQ-138","TGS4161"], "range": ["#4F81BD","#C0504D","#9BBB59","#8064A2","#4BACC6","#F79646","#2C4D75"]},
                "legend": {"title": null, "orient": "none", "direction": "horizontal", "legendX": -46, "legendY": 285, "symbolType": "stroke", "symbolSize": 380, "symbolStrokeWidth": 2.5, "labelFontSize": 14, "labelOffset": 1, "columnPadding": 5}}
            }
          }]
        }
      ]
    }
  ]
}
